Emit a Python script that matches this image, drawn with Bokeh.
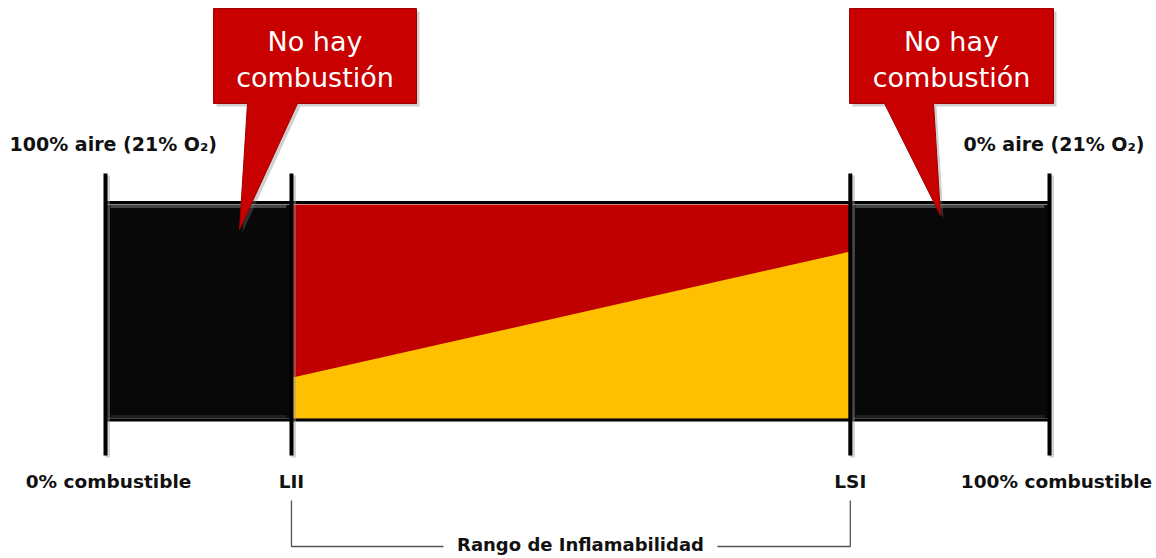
from bokeh.plotting import figure
from bokeh.models import Range1d
from bokeh.embed import file_html
from bokeh.resources import INLINE
from bokeh.core.properties import value

# ---------------- data ----------------
scale_labels = ["0% combustible", "LII", "LSI", "100% combustible"]
scale_pos = [0.0, 19.7, 78.9, 100.0]          # % combustible along the bar
mix_boundary = [0.19, 0.78]                    # yellow/red boundary (fraction of bar height) at LII and LSI
air_labels = ["100% aire (21% O₂)", "0% aire (21% O₂)"]
callout_lines = ["No hay", "combustión"]
range_label = "Rango de Inflamabilidad"

# ---------------- layout helpers (picture pixel -> data) ----------------
def X(p):
    return (p - 105) / 9.44

def Y(q):
    return (418 - q) / 214

W, H = 1156, 558
p = figure(width=W, height=H, output_backend="svg", toolbar_location=None,
           x_range=Range1d(X(0), X(W)), y_range=Range1d(Y(H), Y(0)),
           min_border=0, outline_line_color=None,
           x_axis_location=None, y_axis_location=None)
p.grid.visible = False
p.background_fill_color = "white"
p.border_fill_color = "white"

lii, lsi = scale_pos[1], scale_pos[2]
x0, x1 = scale_pos[0], scale_pos[3]

# black outer zones
p.quad(left=[x0, lsi], right=[lii, x1], bottom=[0, 0], top=[1, 1],
       fill_color="#080808", line_color=None)
# flammable range: red top + yellow lower wedge
p.quad(left=[lii], right=[lsi], bottom=[0], top=[1], fill_color="#C00000", line_color=None)
p.patch([lii, lsi, lsi, lii], [0, 0, mix_boundary[1], mix_boundary[0]],
        fill_color="#FFC000", line_color=None)
# bevel highlights on black zones
inset = X(110) - X(105)
for a, b in [(x0, lii), (lsi, x1)]:
    p.line([a + inset, b - inset], [Y(206), Y(206)], line_color="#444444", line_width=3)
    p.line([a + inset, b - inset], [Y(416), Y(416)], line_color="#1e1e1e", line_width=3)
# bar outline (top & bottom)
p.line([x0, x1], [Y(202), Y(202)], line_color="black", line_width=3)
p.line([x0, x1], [Y(419.5), Y(419.5)], line_color="black", line_width=3)

# vertical markers with soft shadow
dx = X(107) - X(105)
for xv in scale_pos:
    p.line([xv + dx, xv + dx], [Y(175), Y(457)], line_color="#999999", line_alpha=0.45, line_width=5)
for xv in scale_pos:
    p.line([xv, xv], [Y(173), Y(455)], line_color="black", line_width=4)

# callouts
def callout(box_l, box_r, base_l, base_r, tip):
    xs = [box_l, box_r, box_r, base_r, tip[0], base_l, box_l]
    ys = [8, 8, 103, 103, tip[1], 103, 103]
    p.patch([X(v + 3) for v in xs], [Y(v + 3) for v in ys],
            fill_color="#777777", fill_alpha=0.35, line_color=None)
    p.patch([X(v) for v in xs], [Y(v) for v in ys],
            fill_color="#C80000", line_color="#A00000", line_width=1)
    cx = (box_l + box_r) / 2
    p.text(x=[X(cx), X(cx)], y=[Y(41), Y(77)], text=callout_lines,
           text_font=value("DejaVu Sans"), text_font_size="27px",
           text_color="white", text_align="center", text_baseline="middle")

callout(213, 416, 247, 297, (239, 229))
callout(849, 1053, 884, 933, (940, 215))

label_font = value("DejaVu Sans")
# air labels
p.text(x=[X(9)], y=[Y(143)], text=[air_labels[0]], text_font=label_font,
       text_font_style="bold", text_font_size="19px", text_color="#111111",
       text_align="left", text_baseline="middle")
p.text(x=[X(1144)], y=[Y(143)], text=[air_labels[1]], text_font=label_font,
       text_font_style="bold", text_font_size="19px", text_color="#111111",
       text_align="right", text_baseline="middle")

# scale labels
label_x = [X(108), lii, lsi, X(1056)]
p.text(x=label_x, y=[Y(481)] * 4, text=scale_labels, text_font=label_font,
       text_font_style="bold", text_font_size="18.5px", text_color="#111111",
       text_align="center", text_baseline="middle")

# bracket for flammability range
p.line([lii, lii, X(443)], [Y(500), Y(546), Y(546)], line_color="#555555", line_width=1.3)
p.line([X(717), lsi, lsi], [Y(546), Y(546), Y(500)], line_color="#555555", line_width=1.3)
p.text(x=[X(580)], y=[Y(544)], text=[range_label], text_font=label_font,
       text_font_style="bold", text_font_size="18px", text_color="#111111",
       text_align="center", text_baseline="middle")

open("out.html", "w").write(file_html(p, INLINE))
